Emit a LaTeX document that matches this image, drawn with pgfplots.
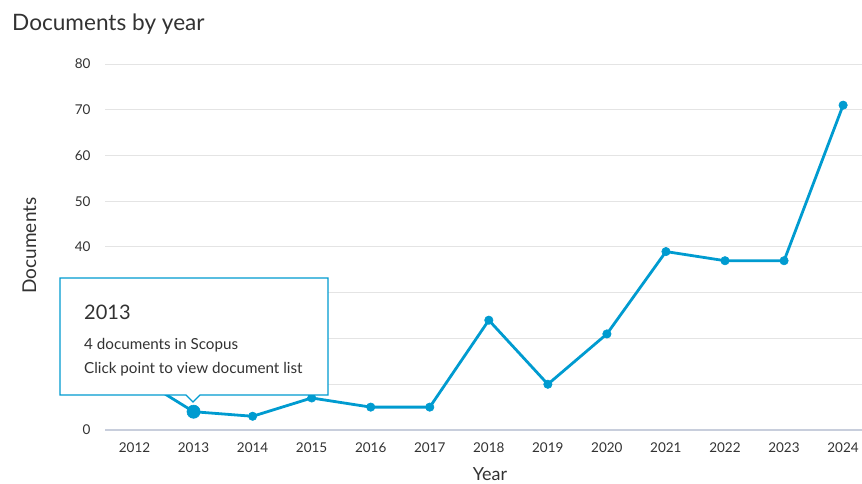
\documentclass[border=0pt]{standalone}
\usepackage{fontspec}
\setmainfont{Lato}
\usepackage{pgfplots}
\pgfplotsset{compat=1.18}
\definecolor{scblue}{RGB}{0,155,208}
\definecolor{txt}{RGB}{50,50,50}
\definecolor{gridc}{RGB}{228,228,228}
\definecolor{axl}{RGB}{200,206,220}
\begin{document}
\begin{tikzpicture}[x=1pt,y=1pt]
\useasboundingbox (0,0) rectangle (862,484);
\begin{axis}[
  at={(105pt,54pt)}, anchor=south west,
  scale only axis, width=757pt, height=366pt,
  xmin=2011.5, xmax=2024.32, ymin=0, ymax=80,
  axis line style={draw=none},
  major tick length=0pt,
  ytick={0,10,...,80}, yticklabels={0,,,,40,50,60,70,80},
  xtick={2012,...,2024},
  ymajorgrids, grid style={gridc, line width=1pt},
  /pgf/number format/assume math mode=true,
  x tick label style={/pgf/number format/1000 sep={}, font=\fontsize{13.5}{16}\selectfont, text=txt, yshift=-9pt},
  y tick label style={font=\fontsize{13.5}{16}\selectfont, text=txt, xshift=-11pt},
  clip=false,
]
\draw[axl, line width=1.3pt] (rel axis cs:0,0) -- (rel axis cs:1,0);
\addplot[scblue, line width=2.8pt, mark=*, mark size=4.2pt, mark options={solid, fill=scblue, draw=scblue, line width=0.6pt}]
coordinates {
(2012,12) (2013,4) (2014,3) (2015,7) (2016,5) (2017,5) (2018,24) (2019,10)
(2020,21) (2021,39) (2022,37) (2023,37) (2024,71)
};
\addplot[only marks, mark=*, mark size=6.6pt, scblue, mark options={solid, fill=scblue, draw=scblue, line width=0.6pt}] coordinates {(2013,4)};
\end{axis}
% tooltip
\draw[scblue, line width=1.4pt, fill=white, line join=miter]
  (60,89) -- (186,89) -- (193,82) -- (200,89) -- (328,89) -- (328,206) -- (60,206) -- cycle;
\node[anchor=base west, inner sep=0, text=txt, font=\fontsize{20}{24}\selectfont] at (84,164) {2013};
\node[anchor=base west, inner sep=0, text=txt, font=\fontsize{15.2}{18}\selectfont] at (84,134) {4 documents in Scopus};
\node[anchor=base west, inner sep=0, text=txt, font=\fontsize{15.2}{18}\selectfont] at (84,110) {Click point to view document list};
% titles
\node[anchor=base west, inner sep=0, text=txt, font=\fontsize{22.6}{27}\selectfont] at (12,453) {Documents by year};
\node[rotate=90, anchor=base, inner sep=0, text=txt, font=\fontsize{19}{22}\selectfont] at (36,238.5) {Documents};
\node[anchor=base, inner sep=0, text=txt, font=\fontsize{18}{22}\selectfont] at (490,3) {Year};
\end{tikzpicture}
\end{document}
